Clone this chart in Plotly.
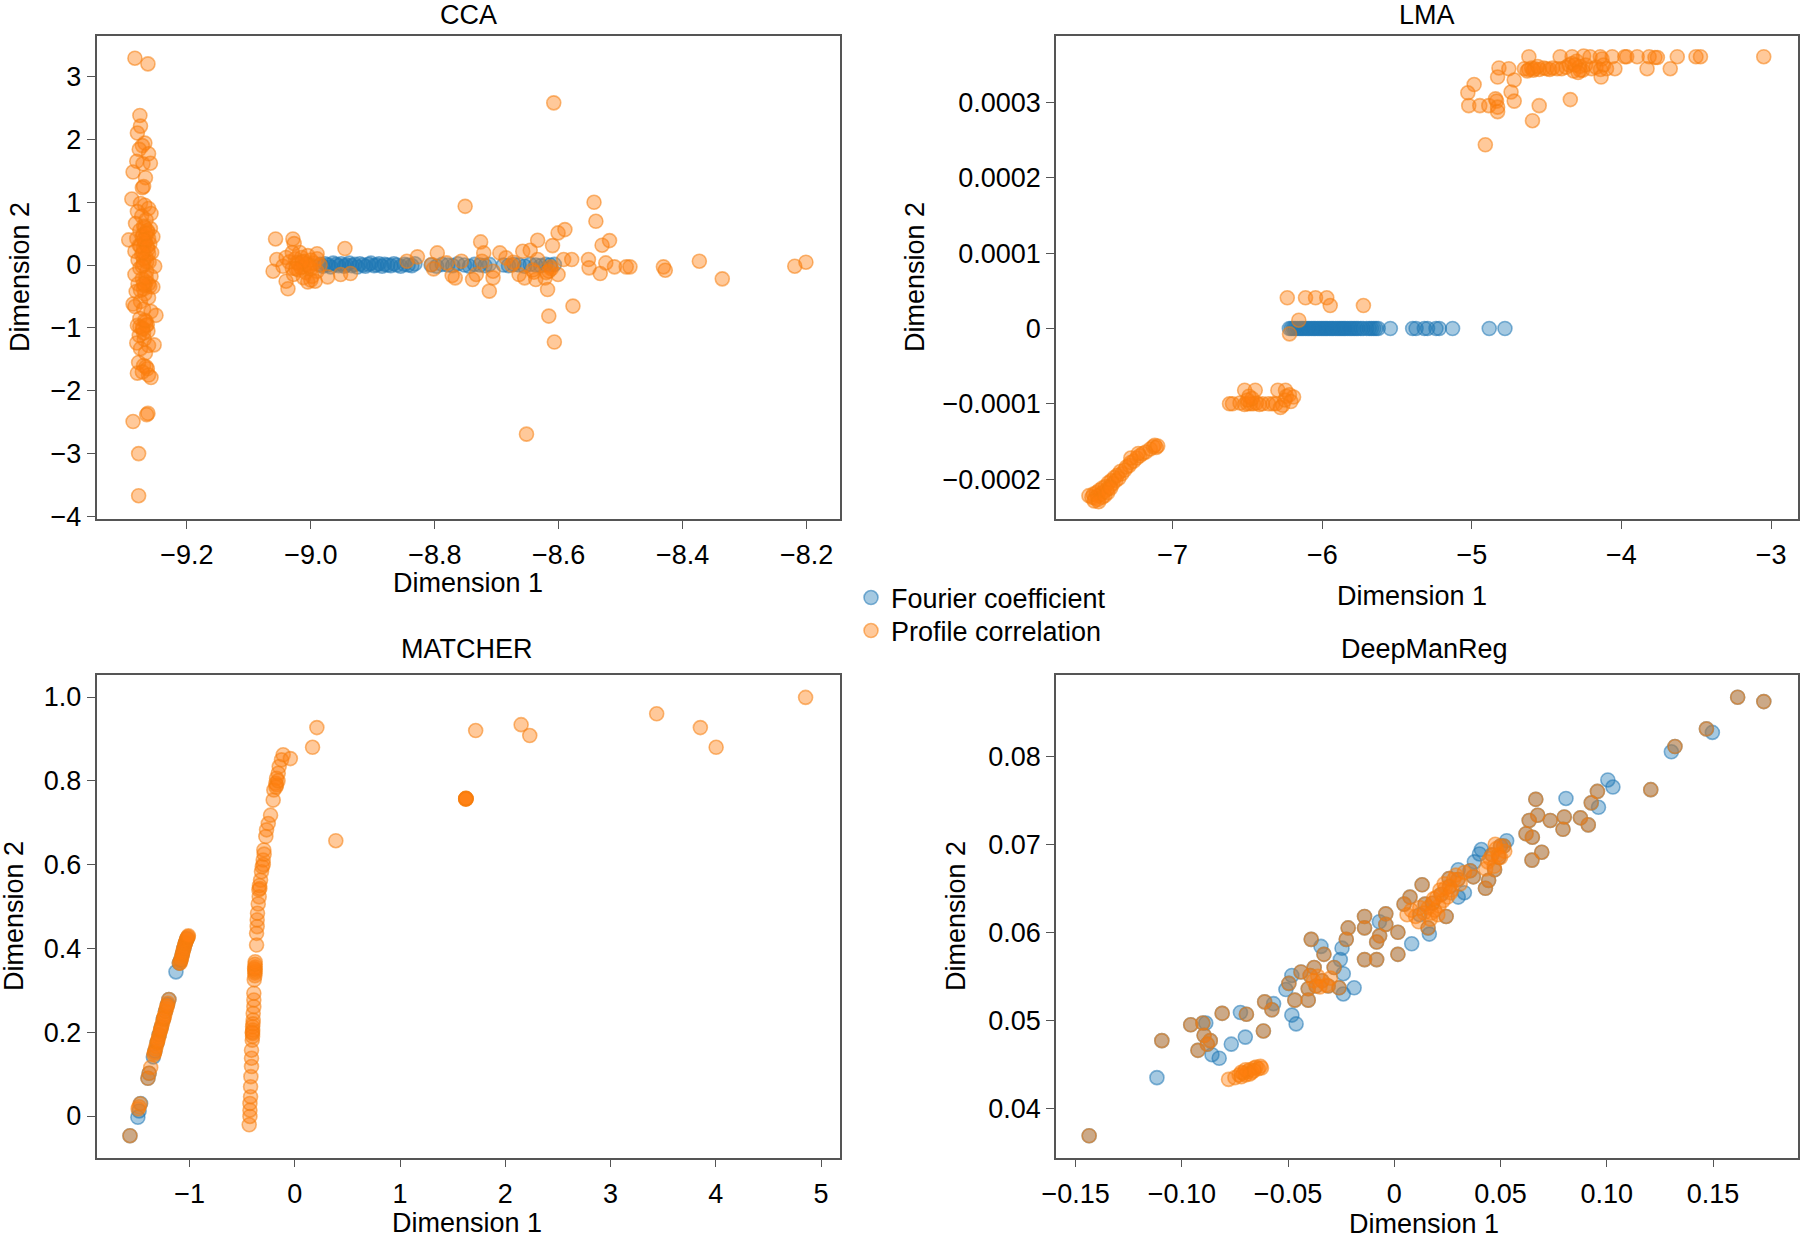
import plotly.graph_objects as go

W, H = 1800, 1240
FONT = "Liberation Sans, Arial, Helvetica, sans-serif"
FS = 27

series_names = ["Fourier coefficient", "Profile correlation"]
panel_titles = ["CCA", "LMA", "MATCHER", "DeepManReg"]

# ---------------- CCA ----------------
cca_fourier = [
    (-8.985, 0.01), (-8.981, -0.02), (-8.977, 0.02), (-8.972, 0.0), (-8.968, -0.03), (-8.964, 0.03),
    (-8.959, 0.01), (-8.955, -0.01), (-8.951, 0.02), (-8.946, -0.02), (-8.943, 0.0), (-8.938, 0.03),
    (-8.934, -0.01), (-8.929, 0.01), (-8.925, -0.03), (-8.921, 0.02), (-8.916, 0.0), (-8.912, -0.02),
    (-8.907, 0.01), (-8.903, 0.03), (-8.898, -0.01), (-8.894, 0.0), (-8.890, 0.02), (-8.885, -0.02),
    (-8.881, 0.01), (-8.876, 0.0), (-8.871, -0.01), (-8.866, 0.02), (-8.861, 0.0), (-8.855, -0.02),
    (-8.849, 0.01), (-8.843, 0.0), (-8.837, -0.01), (-8.832, 0.02),
    (-8.806, 0.0), (-8.797, -0.02), (-8.788, 0.01), (-8.779, 0.0), (-8.771, -0.01), (-8.763, 0.02),
    (-8.752, 0.0), (-8.744, -0.02), (-8.736, 0.01), (-8.727, 0.0), (-8.719, -0.01), (-8.712, 0.01),
    (-8.689, 0.0), (-8.681, -0.01), (-8.672, 0.01), (-8.664, 0.0), (-8.655, -0.02), (-8.646, 0.01),
    (-8.637, 0.0), (-8.629, -0.01), (-8.621, 0.01), (-8.614, 0.0), (-8.607, 0.01),
]
cca_profile = [
    # left column
    (-9.284, 3.29), (-9.263, 3.20), (-9.276, 2.38), (-9.275, 2.21), (-9.280, 2.10), (-9.268, 1.94),
    (-9.272, 1.90), (-9.277, 1.84), (-9.262, 1.77), (-9.281, 1.65), (-9.271, 1.61), (-9.259, 1.62),
    (-9.287, 1.48), (-9.267, 1.39), (-9.270, 1.25), (-9.272, 1.23), (-9.289, 1.05),
    (-9.275, 0.98), (-9.268, 0.95), (-9.262, 0.90), (-9.280, 0.85), (-9.258, 0.82), (-9.273, 0.78),
    (-9.266, 0.72), (-9.283, 0.66), (-9.270, 0.62), (-9.259, 0.58), (-9.276, 0.55), (-9.263, 0.52),
    (-9.271, 0.48), (-9.255, 0.45), (-9.281, 0.42), (-9.294, 0.40), (-9.267, 0.38), (-9.260, 0.34),
    (-9.277, 0.31), (-9.270, 0.28), (-9.263, 0.25), (-9.284, 0.22), (-9.257, 0.20), (-9.273, 0.16),
    (-9.266, 0.12), (-9.279, 0.08), (-9.261, 0.05), (-9.270, 0.02), (-9.252, -0.02), (-9.276, -0.05),
    (-9.265, -0.10), (-9.284, -0.15), (-9.258, -0.18), (-9.272, -0.22), (-9.266, -0.27), (-9.279, -0.30),
    (-9.260, -0.34), (-9.270, -0.38), (-9.255, -0.35), (-9.282, -0.42), (-9.268, -0.46), (-9.262, -0.52),
    (-9.275, -0.58), (-9.287, -0.62), (-9.284, -0.66), (-9.270, -0.70), (-9.258, -0.74), (-9.250, -0.80),
    (-9.276, -0.85), (-9.266, -0.90), (-9.280, -0.96), (-9.272, -1.00), (-9.263, -1.05), (-9.277, -1.12),
    (-9.269, -1.18), (-9.281, -1.24), (-9.262, -1.28), (-9.253, -1.27), (-9.275, -1.33), (-9.267, -1.40),
    (-9.278, -1.55), (-9.270, -1.60), (-9.264, -1.65), (-9.280, -1.72), (-9.262, -1.75), (-9.258, -1.79),
    (-9.268, 0.60), (-9.264, 0.55), (-9.272, 0.45), (-9.262, 0.42), (-9.268, 0.35), (-9.275, 0.30),
    (-9.262, 0.18), (-9.270, 0.10), (-9.265, 0.05), (-9.272, -0.02), (-9.262, -0.30), (-9.268, -0.33),
    (-9.275, -0.40), (-9.264, -0.95), (-9.270, -1.08), (-9.276, -0.98), (-9.266, -1.62), (-9.272, -1.70),
    (-9.266, 0.50), (-9.270, 0.40), (-9.264, 0.30), (-9.271, 0.20), (-9.266, -0.20), (-9.270, -0.30),
    (-9.266, -0.96), (-9.271, -1.02), (-9.268, -0.88),
    (-9.263, -2.36), (-9.265, -2.38), (-9.287, -2.49), (-9.278, -3.00), (-9.278, -3.67),
    # middle group
    (-9.057, 0.415), (-9.029, 0.415), (-9.027, 0.341), (-9.055, 0.087), (-9.061, -0.098), (-9.040, -0.257),
    (-9.037, -0.378), (-9.035, 0.05), (-9.030, -0.05), (-9.025, 0.10), (-9.020, -0.08), (-9.020, 0.02),
    (-9.015, 0.12), (-9.012, -0.03), (-9.010, 0.06), (-9.008, -0.12), (-9.005, 0.0), (-9.000, 0.08),
    (-9.000, -0.06), (-8.995, 0.03), (-8.990, -0.10), (-8.990, 0.10), (-8.985, 0.0), (-9.045, -0.02),
    (-9.040, 0.12), (-9.018, 0.20), (-9.005, 0.15), (-8.998, -0.18), (-9.030, 0.20), (-9.028, -0.15),
    (-9.012, -0.20), (-9.000, -0.24), (-9.005, -0.27), (-8.990, 0.18), (-9.022, 0.04), (-9.016, -0.04),
    (-9.008, 0.02), (-9.002, -0.02), (-9.014, 0.05), (-9.024, -0.06),
    (-8.993, -0.257), (-8.973, -0.188), (-8.945, 0.262), (-8.952, -0.151), (-8.936, -0.135),
    (-8.845, 0.061), (-8.828, 0.130), (-8.796, 0.193), (-8.805, 0.008), (-8.802, -0.061), (-8.781, 0.034),
    (-8.772, -0.167), (-8.767, -0.204), (-8.757, 0.061), (-8.751, 0.934), (-8.739, -0.230), (-8.733, -0.151),
    (-8.726, 0.368), (-8.721, 0.193), (-8.724, 0.061), (-8.712, -0.415), (-8.706, -0.098), (-8.706, -0.204),
    (-8.695, 0.193), (-8.685, 0.114), (-8.673, 0.045), (-8.676, 0.0), (-8.664, -0.151), (-8.658, 0.219),
    (-8.646, 0.235), (-8.655, -0.204), (-8.640, -0.114), (-8.637, -0.230), (-8.634, 0.394), (-8.634, 0.087),
    (-8.622, -0.204), (-8.616, -0.098), (-8.613, -0.029), (-8.610, 0.309), (-8.618, -0.389), (-8.616, -0.812),
    (-8.607, -1.225), (-8.601, 0.511), (-8.590, 0.564), (-8.601, -0.151), (-8.592, 0.087), (-8.579, 0.087),
    (-8.577, -0.653), (-8.552, 0.087), (-8.551, -0.045), (-8.543, 0.998), (-8.540, 0.696), (-8.530, 0.315),
    (-8.518, 0.389), (-8.533, -0.135), (-8.524, 0.034), (-8.510, -0.029), (-8.491, -0.029), (-8.485, -0.029),
    (-8.431, -0.029), (-8.428, -0.082), (-8.373, 0.061), (-8.336, -0.220), (-8.219, -0.019), (-8.201, 0.045),
    (-8.652, -2.69), (-8.608, 2.58), (-8.612, -0.06), (-8.620, -0.12), (-8.642, -0.08),
]

# ---------------- LMA ----------------
lma_fourier = [
    (-6.220, 0.0), (-6.207, 0.0), (-6.193, 0.0), (-6.181, 0.0), (-6.166, 0.0), (-6.152, 0.0),
    (-6.139, 0.0), (-6.127, 0.0), (-6.112, 0.0), (-6.098, 0.0), (-6.086, 0.0), (-6.071, 0.0),
    (-6.058, 0.0), (-6.046, 0.0), (-6.031, 0.0), (-6.018, 0.0), (-6.004, 0.0), (-5.991, 0.0),
    (-5.978, 0.0), (-5.966, 0.0), (-5.951, 0.0), (-5.938, 0.0), (-5.926, 0.0), (-5.911, 0.0),
    (-5.897, 0.0), (-5.884, 0.0), (-5.871, 0.0), (-5.858, 0.0), (-5.846, 0.0), (-5.831, 0.0),
    (-5.816, 0.0), (-5.803, 0.0), (-5.788, 0.0), (-5.774, 0.0), (-5.761, 0.0), (-5.742, 0.0),
    (-5.727, 0.0), (-5.703, 0.0), (-5.686, 0.0), (-5.671, 0.0), (-5.656, 0.0), (-5.641, 0.0),
    (-5.626, 0.0), (-5.545, 0.0), (-5.396, 0.0), (-5.373, 0.0), (-5.318, 0.0), (-5.296, 0.0),
    (-5.240, 0.0), (-5.218, 0.0), (-5.129, 0.0), (-4.884, 0.0), (-4.779, 0.0),
]
lma_profile = [
    (-4.619, 0.000361), (-4.410, 0.000361), (-4.330, 0.000361), (-4.253, 0.000362), (-4.210, 0.000361),
    (-4.142, 0.000361), (-4.130, 0.000358), (-4.062, 0.000361), (-3.978, 0.000361), (-3.965, 0.000361),
    (-3.895, 0.000361), (-3.815, 0.000361), (-3.776, 0.000360), (-3.760, 0.000360), (-3.627, 0.000361),
    (-3.502, 0.000361), (-3.472, 0.000361), (-3.049, 0.000361),
    (-4.819, 0.000346), (-4.753, 0.000345), (-4.649, 0.000345), (-4.620, 0.000344), (-4.600, 0.000346),
    (-4.580, 0.000345), (-4.550, 0.000344), (-4.520, 0.000346), (-4.500, 0.000345), (-4.480, 0.000344),
    (-4.460, 0.000346), (-4.430, 0.000345), (-4.400, 0.000345), (-4.370, 0.000347), (-4.350, 0.000350),
    (-4.330, 0.000352), (-4.320, 0.000342), (-4.300, 0.000355), (-4.280, 0.000348), (-4.260, 0.000343),
    (-4.240, 0.000350), (-4.200, 0.000345), (-4.170, 0.000347), (-4.140, 0.000344), (-4.120, 0.000350),
    (-4.100, 0.000345), (-4.044, 0.000345), (-3.829, 0.000345), (-3.674, 0.000345), (-4.136, 0.000334),
    (-4.276, 0.000343), (-4.828, 0.000334), (-4.717, 0.000330), (-4.590, 0.000343), (-4.310, 0.000350),
    (-4.290, 0.000340), (-4.560, 0.000348), (-4.630, 0.000342),
    (-4.985, 0.000324), (-5.027, 0.000313), (-5.021, 0.000296), (-4.947, 0.000296), (-4.887, 0.000296),
    (-4.842, 0.000305), (-4.835, 0.000302), (-4.828, 0.000294), (-4.828, 0.000288), (-4.738, 0.000314),
    (-4.717, 0.000302), (-4.550, 0.000296), (-4.342, 0.000304), (-4.595, 0.000276), (-4.910, 0.000244),
    (-6.234, 0.0000408), (-6.112, 0.0000408), (-6.045, 0.0000408), (-5.970, 0.0000408), (-5.947, 0.0000305),
    (-5.725, 0.0000305), (-6.157, 0.0000110), (-6.219, -0.0000072),
    (-6.620, -0.000100), (-6.600, -0.000100), (-6.550, -0.000099), (-6.520, -0.000101), (-6.500, -0.000100),
    (-6.480, -0.000100), (-6.460, -0.000100), (-6.440, -0.000099), (-6.420, -0.000101), (-6.400, -0.000100),
    (-6.360, -0.000100), (-6.330, -0.000100), (-6.310, -0.000100), (-6.519, -0.000082), (-6.448, -0.000082),
    (-6.490, -0.000090), (-6.297, -0.000082), (-6.246, -0.000082), (-6.240, -0.000090), (-6.192, -0.000091),
    (-6.264, -0.000102), (-6.280, -0.000105), (-6.250, -0.000095), (-6.220, -0.000088), (-6.210, -0.000097),
    (-6.470, -0.000093), (-6.500, -0.000095),
    (-7.560, -0.000222), (-7.540, -0.000224), (-7.530, -0.000220), (-7.520, -0.000225), (-7.510, -0.000218),
    (-7.500, -0.000222), (-7.500, -0.000227), (-7.490, -0.000215), (-7.480, -0.000220), (-7.470, -0.000224),
    (-7.470, -0.000212), (-7.460, -0.000217), (-7.450, -0.000210), (-7.440, -0.000214), (-7.430, -0.000205),
    (-7.420, -0.000210), (-7.410, -0.000202), (-7.400, -0.000206), (-7.390, -0.000198), (-7.380, -0.000202),
    (-7.370, -0.000195), (-7.360, -0.000199), (-7.350, -0.000190), (-7.340, -0.000193), (-7.320, -0.000188),
    (-7.310, -0.000184), (-7.290, -0.000182), (-7.280, -0.000178), (-7.260, -0.000176), (-7.240, -0.000172),
    (-7.220, -0.000169), (-7.200, -0.000166), (-7.180, -0.000164), (-7.150, -0.000160), (-7.130, -0.000157),
    (-7.120, -0.000155), (-7.110, -0.000158), (-7.100, -0.000156), (-7.280, -0.000172), (-7.230, -0.000166),
    (-7.525, -0.000229), (-7.495, -0.000230), (-7.455, -0.000222), (-7.435, -0.000218), (-7.415, -0.000212),
]

# ---------------- MATCHER ----------------
matcher_shared = [
    (-1.197, 0.278), (-1.396, 0.090), (-1.385, 0.102), (-1.567, -0.047), (-1.098, 0.365),
]
matcher_fourier_only = [
    (-1.130, 0.344), (-1.085, 0.372), (-1.070, 0.386), (-1.055, 0.400), (-1.040, 0.413),
    (-1.025, 0.423), (-1.345, 0.141), (-1.330, 0.155), (-1.310, 0.175), (-1.290, 0.194), (-1.270, 0.212),
    (-1.250, 0.231), (-1.230, 0.250), (-1.210, 0.266), (-1.492, -0.003), (-1.466, 0.030), (-1.480, 0.012),
]
matcher_profile_only = [
    (-1.090, 0.365), (-1.085, 0.370), (-1.080, 0.375), (-1.075, 0.380), (-1.070, 0.385), (-1.065, 0.390),
    (-1.060, 0.395), (-1.055, 0.400), (-1.050, 0.405), (-1.045, 0.410), (-1.040, 0.413), (-1.035, 0.417),
    (-1.030, 0.420), (-1.025, 0.423), (-1.020, 0.426), (-1.015, 0.428), (-1.012, 0.430),
    (-1.340, 0.146), (-1.332, 0.153), (-1.325, 0.160), (-1.318, 0.166), (-1.310, 0.174), (-1.302, 0.181),
    (-1.295, 0.188), (-1.288, 0.194), (-1.280, 0.202), (-1.272, 0.209), (-1.265, 0.216), (-1.258, 0.222),
    (-1.250, 0.230), (-1.243, 0.236), (-1.236, 0.243), (-1.228, 0.250), (-1.221, 0.256), (-1.214, 0.263),
    (-1.207, 0.269), (-1.335, 0.150), (-1.305, 0.178), (-1.275, 0.206), (-1.245, 0.234),
    (-1.215, 0.262), (-1.370, 0.116),
    (-1.489, 0.017), (-1.470, 0.029), (-1.480, 0.022),
    (-0.434, -0.021), (-0.427, -0.001), (-0.427, 0.014), (-0.427, 0.030), (-0.421, 0.046), (-0.421, 0.070),
    (-0.418, 0.094), (-0.412, 0.118), (-0.412, 0.138), (-0.412, 0.157), (-0.405, 0.181), (-0.402, 0.197),
    (-0.402, 0.213), (-0.396, 0.229), (-0.396, 0.245), (-0.390, 0.261), (-0.390, 0.277), (-0.390, 0.293),
    (-0.386, 0.325), (-0.380, 0.341), (-0.380, 0.349), (-0.377, 0.356), (-0.377, 0.368), (-0.364, 0.408),
    (-0.364, 0.436), (-0.358, 0.452), (-0.358, 0.468), (-0.355, 0.484), (-0.348, 0.506), (-0.339, 0.523),
    (-0.333, 0.543), (-0.326, 0.563), (-0.317, 0.583), (-0.310, 0.595), (-0.301, 0.611), (-0.295, 0.635),
    (-0.276, 0.667), (-0.269, 0.683), (-0.253, 0.698), (-0.231, 0.718), (-0.206, 0.754), (-0.200, 0.778),
    (-0.181, 0.794), (-0.174, 0.806), (-0.158, 0.818), (-0.149, 0.834), (-0.127, 0.850), (-0.111, 0.862),
    (-0.400, 0.205), (-0.398, 0.220), (-0.402, 0.190), (-0.405, 0.200), (-0.380, 0.335), (-0.378, 0.345),
    (-0.382, 0.352), (-0.379, 0.362), (-0.342, 0.540), (-0.336, 0.550), (-0.300, 0.600), (-0.292, 0.625),
    (-0.174, 0.790), (-0.180, 0.785), (-0.160, 0.800),
    (-0.043, 0.853), (0.168, 0.880), (0.209, 0.927), (0.389, 0.657), (1.718, 0.920), (2.150, 0.934),
    (2.232, 0.908), (3.438, 0.960), (3.853, 0.927), (4.003, 0.880), (4.853, 0.999),
    (1.625, 0.757), (1.626, 0.758), (1.624, 0.756), (1.625, 0.758), (1.627, 0.757), (1.623, 0.757),
]

# ---------------- DeepManReg ----------------
dmr_shared = [
    (-0.1436, 0.0369), (0.1616, 0.0867), (0.1739, 0.0862), (0.1469, 0.0831), (0.1321, 0.0811),
    (0.1207, 0.0762), (0.0956, 0.0760), (0.0927, 0.0747), (0.0913, 0.0722), (0.0876, 0.0730),
    (0.0800, 0.0731), (0.0794, 0.0717), (0.0734, 0.0727), (0.0666, 0.0751), (0.0675, 0.0733),
    (0.0635, 0.0727), (0.0620, 0.0712), (0.0650, 0.0708), (0.0694, 0.0691), (0.0648, 0.0682),
    (0.0515, 0.0698), (0.0492, 0.0685), (0.0472, 0.0671), (0.0429, 0.0650), (0.0444, 0.0659),
    (0.0372, 0.0663), (0.0357, 0.0670), (0.0258, 0.0661), (0.0145, 0.0632), (0.0131, 0.0654),
    (0.0074, 0.0640), (0.0046, 0.0632), (0.0244, 0.0618), (0.0159, 0.0605), (0.0017, 0.0575),
    (-0.0040, 0.0621), (-0.0040, 0.0609), (0.0017, 0.0600), (-0.0069, 0.0596), (-0.0083, 0.0589),
    (-0.0140, 0.0618), (-0.0140, 0.0605), (-0.0217, 0.0605), (-0.0226, 0.0592), (-0.0140, 0.0569),
    (-0.0083, 0.0569), (-0.0391, 0.0592), (-0.0331, 0.0575), (-0.0283, 0.0560), (-0.0377, 0.0560),
    (-0.0396, 0.0551), (-0.0439, 0.0555), (-0.0496, 0.0542), (-0.0405, 0.0536), (-0.0368, 0.0539),
    (-0.0311, 0.0539), (-0.0260, 0.0537), (-0.0468, 0.0523), (-0.0405, 0.0523), (-0.0610, 0.0521),
    (-0.0576, 0.0512), (-0.0616, 0.0488), (-0.0696, 0.0507), (-0.0810, 0.0508), (-0.0901, 0.0497),
    (-0.0958, 0.0495), (-0.0895, 0.0483), (-0.0866, 0.0477), (-0.0880, 0.0473), (-0.0924, 0.0466),
    (-0.1094, 0.0477), (0.0180, 0.0633), (0.0220, 0.0643), (0.0260, 0.0652), (0.0300, 0.0660),
    (0.0460, 0.0688), (0.0500, 0.0698), (-0.0340, 0.0545),
]
dmr_fourier_only = [
    (0.1497, 0.0827), (0.1304, 0.0805), (0.1005, 0.0773), (0.1029, 0.0765), (0.0961, 0.0742),
    (0.0808, 0.0752), (0.0529, 0.0704), (0.0401, 0.0689), (0.0377, 0.0680), (0.0301, 0.0671),
    (0.0301, 0.0640), (0.0165, 0.0598), (0.0082, 0.0587), (-0.0246, 0.0582), (-0.0345, 0.0584),
    (-0.0254, 0.0569), (-0.0240, 0.0553), (-0.0482, 0.0551), (-0.0510, 0.0535), (-0.0189, 0.0537),
    (-0.0240, 0.0530), (-0.0568, 0.0519), (-0.0482, 0.0506), (-0.0462, 0.0496), (-0.0724, 0.0509),
    (-0.0887, 0.0497), (-0.0858, 0.0461), (-0.0824, 0.0457), (-0.0767, 0.0473), (-0.0701, 0.0481),
    (-0.1117, 0.0435), (0.0410, 0.0694), (0.0330, 0.0645), (-0.0070, 0.0612), (0.0120, 0.0620),
]
dmr_profile_only = [
    (0.0200, 0.0640), (0.0240, 0.0650), (0.0280, 0.0660), (0.0160, 0.0628), (0.0190, 0.0625),
    (0.0210, 0.0630), (0.0250, 0.0640), (0.0270, 0.0648), (0.0120, 0.0628), (0.0140, 0.0622),
    (0.0100, 0.0618), (0.0080, 0.0625), (0.0060, 0.0620), (0.0230, 0.0636), (0.0310, 0.0655),
    (0.0290, 0.0665), (0.0330, 0.0668), (0.0170, 0.0615), (0.0185, 0.0638), (0.0215, 0.0648),
    (0.0235, 0.0655), (0.0175, 0.0622), (0.0205, 0.0620), (0.0265, 0.0645), (0.0115, 0.0612),
    (0.0480, 0.0695), (0.0440, 0.0680), (0.0470, 0.0675), (0.0490, 0.0688), (0.0520, 0.0692),
    (0.0430, 0.0672), (0.0450, 0.0684), (0.0500, 0.0685), (0.0475, 0.0700),
    (-0.0320, 0.0540), (-0.0300, 0.0548), (-0.0360, 0.0550), (-0.0380, 0.0545), (-0.0350, 0.0538),
    (-0.0780, 0.0433), (-0.0750, 0.0435), (-0.0730, 0.0438), (-0.0720, 0.0436), (-0.0710, 0.0440),
    (-0.0700, 0.0438), (-0.0690, 0.0442), (-0.0680, 0.0444), (-0.0670, 0.0441), (-0.0660, 0.0446),
    (-0.0650, 0.0447), (-0.0640, 0.0445), (-0.0630, 0.0448), (-0.0625, 0.0446), (-0.0700, 0.0444),
    (-0.0680, 0.0439), (-0.0660, 0.0443), (-0.0720, 0.0441),
]

# ---------------- axes / ticks ----------------
cca_xticks = [-9.2, -9.0, -8.8, -8.6, -8.4, -8.2]
cca_xlabels = ["\u22129.2", "\u22129.0", "\u22128.8", "\u22128.6", "\u22128.4", "\u22128.2"]
cca_yticks = [-4, -3, -2, -1, 0, 1, 2, 3]
cca_ylabels = ["\u22124", "\u22123", "\u22122", "\u22121", "0", "1", "2", "3"]

lma_xticks = [-7, -6, -5, -4, -3]
lma_xlabels = ["\u22127", "\u22126", "\u22125", "\u22124", "\u22123"]
lma_yticks = [-0.0002, -0.0001, 0, 0.0001, 0.0002, 0.0003]
lma_ylabels = ["\u22120.0002", "\u22120.0001", "0", "0.0001", "0.0002", "0.0003"]

matcher_xticks = [-1, 0, 1, 2, 3, 4, 5]
matcher_xlabels = ["\u22121", "0", "1", "2", "3", "4", "5"]
matcher_yticks = [0, 0.2, 0.4, 0.6, 0.8, 1.0]
matcher_ylabels = ["0", "0.2", "0.4", "0.6", "0.8", "1.0"]

dmr_xticks = [-0.15, -0.10, -0.05, 0, 0.05, 0.10, 0.15]
dmr_xlabels = ["\u22120.15", "\u22120.10", "\u22120.05", "0", "0.05", "0.10", "0.15"]
dmr_yticks = [0.04, 0.05, 0.06, 0.07, 0.08]
dmr_ylabels = ["0.04", "0.05", "0.06", "0.07", "0.08"]

panels = [
    dict(fourier=cca_fourier, profile=cca_profile,
         xr=[-9.346, -8.146], yr=[-4.04, 3.65],
         xt=cca_xticks, xl=cca_xlabels, yt=cca_yticks, yl=cca_ylabels,
         box=(96.5, 840, 35.6, 519), title_pos=(468, 15),
         xtitle_pos=(468, 583), ytitle_pos=(20, 277)),
    dict(fourier=lma_fourier, profile=lma_profile,
         xr=[-7.78, -2.82], yr=[-0.000253, 0.000389],
         xt=lma_xticks, xl=lma_xlabels, yt=lma_yticks, yl=lma_ylabels,
         box=(1056, 1798, 35.6, 519), title_pos=(1427, 15),
         xtitle_pos=(1412, 596), ytitle_pos=(915, 277)),
    dict(fourier=matcher_shared + matcher_fourier_only, profile=matcher_shared + matcher_profile_only,
         xr=[-1.885, 5.18], yr=[-0.099, 1.0525],
         xt=matcher_xticks, xl=matcher_xlabels, yt=matcher_yticks, yl=matcher_ylabels,
         box=(96.5, 840, 675, 1157.5), title_pos=(467, 649),
         xtitle_pos=(467, 1223), ytitle_pos=(14, 916)),
    dict(fourier=dmr_shared + dmr_fourier_only, profile=dmr_shared + dmr_profile_only,
         xr=[-0.1592, 0.19], yr=[0.03443, 0.08922],
         xt=dmr_xticks, xl=dmr_xlabels, yt=dmr_yticks, yl=dmr_ylabels,
         box=(1056, 1798, 675, 1157.5), title_pos=(1424, 649),
         xtitle_pos=(1424, 1224), ytitle_pos=(956, 916)),
]

BLUE_FILL = "rgba(31,119,180,0.40)"
BLUE_LINE = "rgba(31,119,180,0.55)"
ORANGE_FILL = "rgba(255,127,14,0.42)"
ORANGE_LINE = "rgba(245,125,12,0.55)"

fig = go.Figure()
annotations = []
layout_axes = {}

for i, p in enumerate(panels):
    n = i + 1
    xa = "x" if n == 1 else f"x{n}"
    ya = "y" if n == 1 else f"y{n}"
    for k, (name, pts, fill, line) in enumerate([
        (series_names[0], p["fourier"], BLUE_FILL, BLUE_LINE),
        (series_names[1], p["profile"], ORANGE_FILL, ORANGE_LINE),
    ]):
        fig.add_trace(go.Scatter(
            x=[q[0] for q in pts], y=[q[1] for q in pts],
            mode="markers", name=name, xaxis=xa, yaxis=ya,
            legend="legend" if k == 0 else "legend2",
            showlegend=(n == 1),
            marker=dict(size=14, color=fill, line=dict(color=line, width=1.6)),
            hoverinfo="skip",
        ))
    x0, x1, y0, y1 = p["box"]
    axis_common = dict(
        showline=True, linecolor="#555555", linewidth=1.6, mirror=True,
        ticks="outside", ticklen=8, tickwidth=1.4, tickcolor="#555555",
        showgrid=False, zeroline=False,
        tickfont=dict(family=FONT, size=FS, color="#000000"),
    )
    layout_axes["xaxis" if n == 1 else f"xaxis{n}"] = dict(
        axis_common, domain=[x0 / W, x1 / W], range=p["xr"],
        tickmode="array", tickvals=p["xt"], ticktext=p["xl"],
        anchor=ya, ticklabelstandoff=3,
    )
    layout_axes["yaxis" if n == 1 else f"yaxis{n}"] = dict(
        axis_common, domain=[1 - y1 / H, 1 - y0 / H], range=p["yr"],
        tickmode="array", tickvals=p["yt"], ticktext=p["yl"],
        anchor=xa, ticklabelstandoff=0,
    )
    tx, ty = p["title_pos"]
    annotations.append(dict(text=panel_titles[i], x=tx / W, y=1 - ty / H, xref="paper", yref="paper",
                            xanchor="center", yanchor="middle", showarrow=False,
                            font=dict(family=FONT, size=FS, color="#000000")))
    ax_, ay_ = p["xtitle_pos"]
    annotations.append(dict(text="Dimension 1", x=ax_ / W, y=1 - ay_ / H, xref="paper", yref="paper",
                            xanchor="center", yanchor="middle", showarrow=False,
                            font=dict(family=FONT, size=FS, color="#000000")))
    bx_, by_ = p["ytitle_pos"]
    annotations.append(dict(text="Dimension 2", x=bx_ / W, y=1 - by_ / H, xref="paper", yref="paper",
                            xanchor="center", yanchor="middle", showarrow=False, textangle=-90,
                            font=dict(family=FONT, size=FS, color="#000000")))

legend_common = dict(xanchor="left", yanchor="middle", bgcolor="rgba(0,0,0,0)",
                     font=dict(family=FONT, size=FS, color="#000000"), itemsizing="trace")

fig.update_layout(
    width=W, height=H,
    margin=dict(l=0, r=0, t=0, b=0, autoexpand=False),
    paper_bgcolor="white", plot_bgcolor="white",
    annotations=annotations,
    showlegend=True,
    legend=dict(legend_common, x=851 / W, y=1 - 598 / H),
    legend2=dict(legend_common, x=851 / W, y=1 - 631 / H),
    **layout_axes,
)

fig.write_html("out.html", config={"displayModeBar": False},
               post_script="document.body.style.margin='0px';")
